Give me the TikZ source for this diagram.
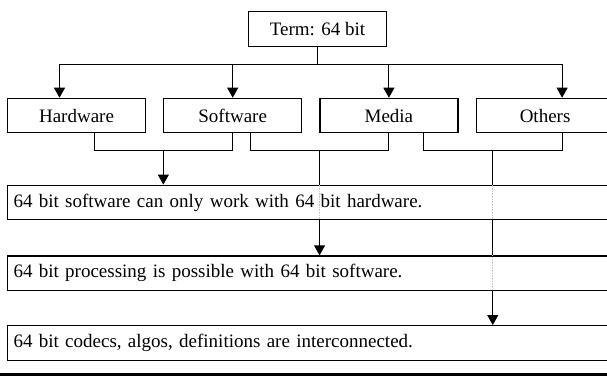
\documentclass[tikz,border=0pt]{standalone}
\usepackage{fontspec}
\setmainfont{Liberation Serif}
\usetikzlibrary{positioning,arrows.meta}

\begin{document}
\begin{tikzpicture}[x=1pt, y=-1pt, % one unit = one pixel, y grows downwards
box/.style={rectangle, draw=black, line width=1.2pt, minimum width=138pt, minimum height=34.4pt, inner sep=0pt, font=\fontsize{19}{22}\selectfont},
statement/.style={rectangle, draw=black, line width=1.2pt, minimum height=34.5pt, text width=591pt, inner xsep=6pt, inner ysep=0pt, align=left, font=\fontsize{19}{22}\selectfont},
link/.style={line width=1pt},
arrow/.style={link, -{Triangle[width=11pt,length=10pt]}},
faint/.style={gray!45, line width=0.6pt, densely dotted},
node distance=17pt,
]
\useasboundingbox (0,0) rectangle (607,376);

% \node[type](name_of_node)[relative placement]{text_in_node}
\node[box, minimum width=137.3pt](term) at (317.5,29){Term: 64 bit};
\node[box](hardware) at (76.5,115.5){Hardware};
\node[box](software)[right=of hardware]{Software};
\node[box](media)[right=of software]{Media};
\node[box](others)[right=of media]{Others};

\node[statement](fact_one)[below=51.3pt of hardware.south west, anchor=north west]{64 bit software can only work with 64 bit hardware.};
\node[statement](fact_two)[below=35pt of fact_one]{64 bit processing is possible with 64 bit software.};
\node[statement](fact_three)[below=34pt of fact_two]{64 bit codecs, algos, definitions are interconnected.};

% entry and exit points of the connectors
\coordinate (hw_in) at ([xshift=-17pt]hardware.north);
\coordinate (ot_in) at ([xshift=17pt]others.north);
\coordinate (hw_out) at ([xshift=17.5pt]hardware.south);
\coordinate (sw_out) at ([xshift=17.5pt]software.south);
\coordinate (md_out) at ([xshift=34.5pt]media.south);
\coordinate (ot_out) at ([xshift=17pt]others.south);

% term fans out to the four kinds
\draw[link] (term.south) -- ++(0,17.3) coordinate (bus);
\draw[link] (hw_in |- bus) -- (ot_in |- bus);
\foreach \n in {hw_in, software.north, media.north, ot_in}
  \draw[arrow] (\n |- bus) -- (\n);

% pairs of kinds join into the statements
\draw[link] (hw_out) -- ++(0,17.3) -| coordinate[pos=0.25](join_one) (software.south);
\draw[arrow] (join_one) -- (join_one |- fact_one.north);

\draw[link] (sw_out) -- ++(0,17.3) -| coordinate[pos=0.25](join_two) (media.south);
\draw[link] (join_two) -- (join_two |- fact_one.north);
\draw[faint] (join_two |- fact_one.north) -- (join_two |- fact_one.south);
\draw[arrow] (join_two |- fact_one.south) -- (join_two |- fact_two.north);

\draw[link] (md_out) -- ++(0,17.3) -| coordinate[pos=0.25](join_three) (ot_out);
\draw[link] (join_three) -- (join_three |- fact_one.north);
\draw[faint] (join_three |- fact_one.north) -- (join_three |- fact_one.south);
\draw[link] (join_three |- fact_one.south) -- (join_three |- fact_two.north);
\draw[faint] (join_three |- fact_two.north) -- (join_three |- fact_two.south);
\draw[arrow] (join_three |- fact_two.south) -- (join_three |- fact_three.north);

% closing rule
\draw[line width=3.3pt] (0,374.3) -- (607,374.3);

\end{tikzpicture}
\end{document}
